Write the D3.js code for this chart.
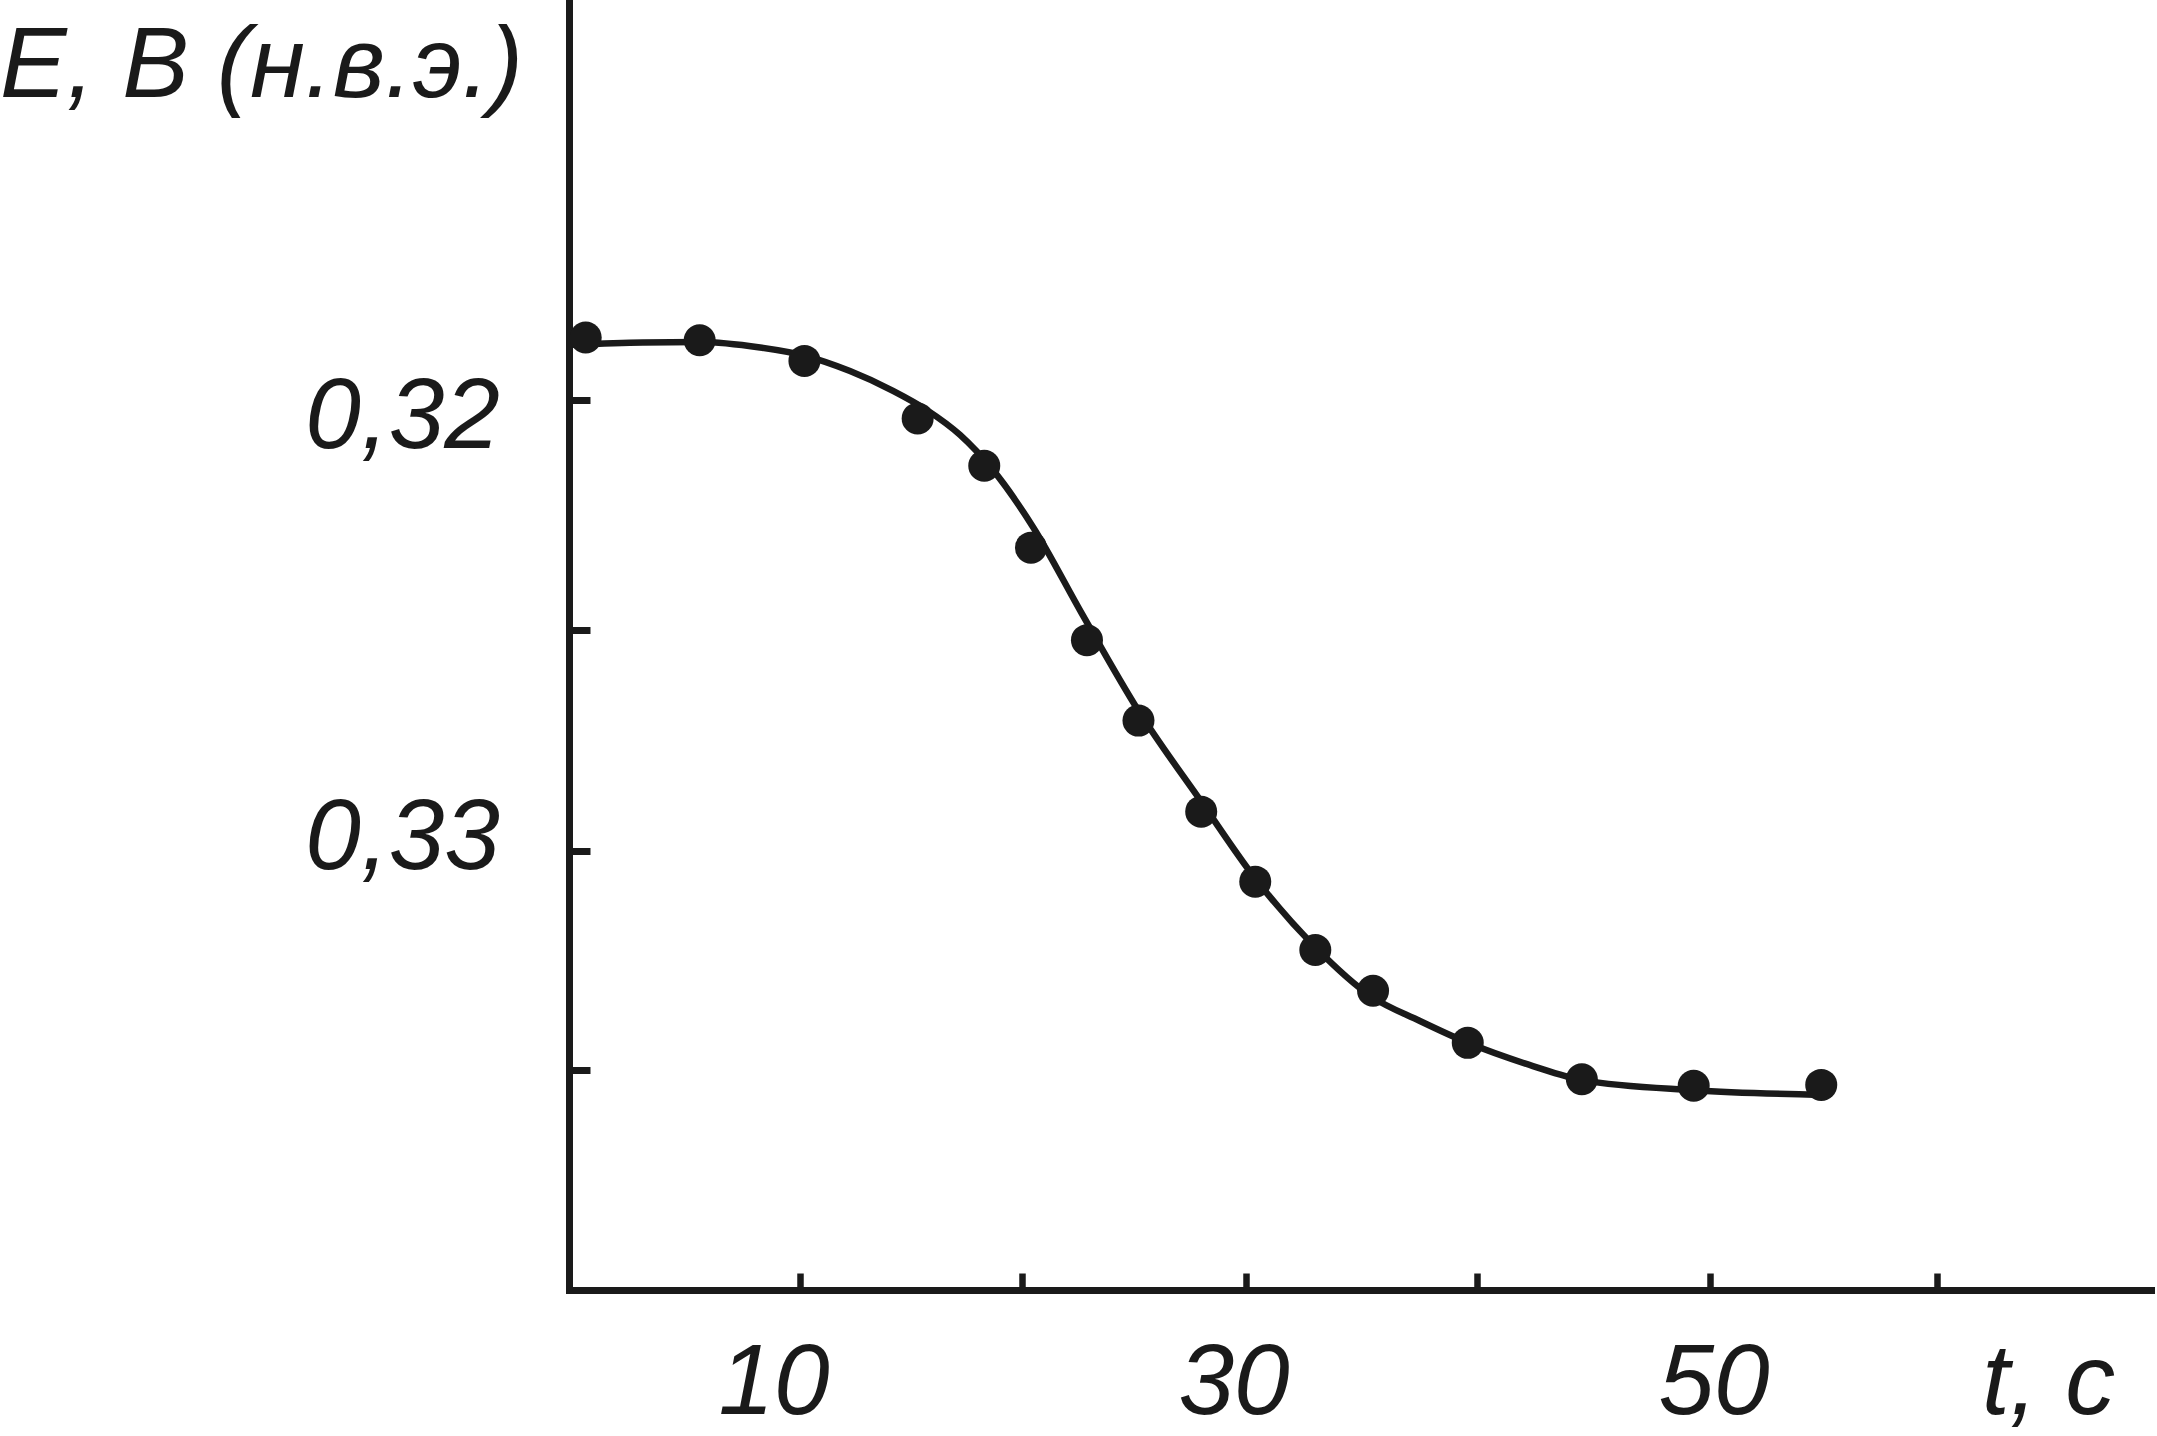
<!DOCTYPE html>
<html>
<head>
<meta charset="utf-8">
<script src="https://cdn.jsdelivr.net/npm/d3@7"></script>
<style>
  html, body { margin: 0; padding: 0; background: #fff; }
  svg { display: block; }
  text { font-family: "Liberation Sans", Arial, sans-serif; font-style: italic; fill: #1a1a1a; }
</style>
</head>
<body>
<script>
// ---- data ----
const timeSec   = [0.6, 5.6, 10.2, 15.3, 18.3, 20.4, 22.9, 25.2, 28.0, 30.4, 33.0, 35.5, 39.6, 44.5, 49.3, 54.9];
const potential = [0.31864, 0.31870, 0.31915, 0.32040, 0.32143, 0.32321, 0.32523, 0.32705, 0.32911, 0.33070, 0.33226, 0.33319, 0.33438, 0.33521, 0.33536, 0.33534];

const fitTime = [0, 3.11, 5.61, 8.25, 10.23, 12.25, 14.19, 15.72, 17.21, 18.69, 20.49, 22.68, 25.18, 28.04, 30.39, 32.99, 35.45, 37.53, 39.61, 42.40, 44.51, 49.31, 54.93];
const fitE    = [0.31880, 0.31875, 0.31874, 0.31886, 0.31904, 0.31937, 0.31980, 0.32022, 0.32076, 0.32152, 0.32276, 0.32465, 0.32681, 0.32891, 0.33062, 0.33219, 0.33333, 0.33388, 0.33438, 0.33491, 0.33523, 0.33546, 0.33557];

const xTicks = [10, 20, 30, 40, 50, 60];
const xTickLabels = ["10", "", "30", "", "50", ""];
const yTicks = [0.32, 0.325, 0.33, 0.335];
const yTickLabels = ["0,32", "", "0,33", ""];
const yTitle = "E, B (н.в.э.)";
const xTitle = "t, c";

// ---- layout ----
const W = 2157, H = 1436;
const ink = "#1a1a1a";
const axisX = 569.5, axisY = 1290.5;
const xLabelBaseline = 1414;

const svg = d3.select("body").append("svg").attr("width", W).attr("height", H);
svg.append("rect").attr("width", W).attr("height", H).attr("fill", "#fff");

// hand-drawn axis: ticks are not perfectly even, so use piecewise scales
const x = d3.scaleLinear()
  .domain([0, 10, 20, 30, 40, 50, 60])
  .range([572, 800, 1022, 1246, 1477, 1710, 1937]);
const y = d3.scaleLinear()
  .domain([0.32, 0.325, 0.33, 0.335])
  .range([400, 630, 851, 1070]);

// axis lines
svg.append("line").attr("x1", axisX).attr("x2", axisX).attr("y1", 0).attr("y2", axisY + 3.5)
  .attr("stroke", ink).attr("stroke-width", 7);
svg.append("line").attr("x1", axisX - 3.5).attr("x2", 2155).attr("y1", axisY).attr("y2", axisY)
  .attr("stroke", ink).attr("stroke-width", 7);

// ticks via d3 axes
const gx = svg.append("g").attr("transform", `translate(0,${axisY})`)
  .call(d3.axisBottom(x).tickValues(xTicks).tickSizeInner(-17).tickSizeOuter(0).tickFormat(""));
gx.select(".domain").remove();
gx.selectAll(".tick line").attr("stroke", ink).attr("stroke-width", 6.5);

const gy = svg.append("g").attr("transform", `translate(${axisX},0)`)
  .call(d3.axisLeft(y).tickValues(yTicks).tickSizeInner(-21).tickSizeOuter(0).tickFormat(""));
gy.select(".domain").remove();
gy.selectAll(".tick line").attr("stroke", ink).attr("stroke-width", 7);

// tick labels
const xLabelNudge = [-26, 0, -12, 0, 4, 0];
svg.append("g").selectAll("text")
  .data(xTicks.map((v, i) => ({ v, t: xTickLabels[i], n: xLabelNudge[i] })).filter(d => d.t))
  .join("text")
  .attr("x", d => x(d.v) + d.n)
  .attr("y", xLabelBaseline)
  .attr("text-anchor", "middle")
  .attr("font-size", 100)
  .text(d => d.t);

const yLabelBaselineOffset = [48, 0, 18, 0];
svg.append("g").selectAll("text")
  .data(yTicks.map((v, i) => ({ v, t: yTickLabels[i], o: yLabelBaselineOffset[i] })).filter(d => d.t))
  .join("text")
  .attr("x", 500)
  .attr("y", d => y(d.v) + d.o)
  .attr("text-anchor", "end")
  .attr("font-size", 100)
  .text(d => d.t);

// titles
svg.append("text").attr("x", 0).attr("y", 97).attr("font-size", 100).text(yTitle);
svg.append("text").attr("x", 1982).attr("y", xLabelBaseline).attr("font-size", 100).text(xTitle);

// fitted curve
const fit = fitTime.map((t, i) => [t, fitE[i]]);
svg.append("path")
  .datum(fit)
  .attr("fill", "none")
  .attr("stroke", ink)
  .attr("stroke-width", 6.5)
  .attr("stroke-linejoin", "round")
  .attr("d", d3.line().x(d => x(d[0])).y(d => y(d[1])).curve(d3.curveMonotoneX));

// measured points
svg.append("g").selectAll("circle")
  .data(timeSec.map((t, i) => [t, potential[i]]))
  .join("circle")
  .attr("cx", d => x(d[0]))
  .attr("cy", d => y(d[1]))
  .attr("r", 16)
  .attr("fill", ink);
</script>
</body>
</html>
